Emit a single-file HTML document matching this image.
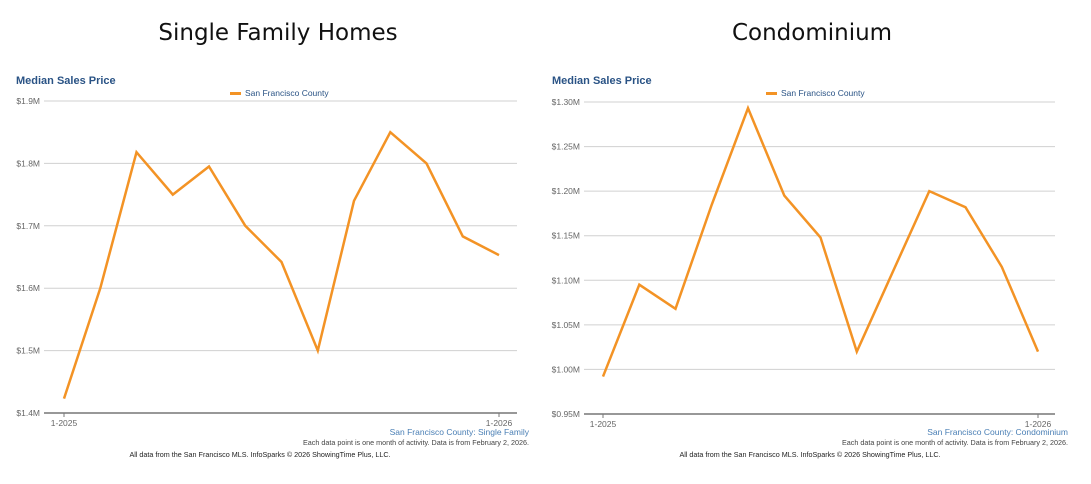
<!DOCTYPE html>
<html><head><meta charset="utf-8"><style>
html,body{margin:0;padding:0;background:#fff;width:1091px;height:484px;overflow:hidden}
svg text{font-family:"Liberation Sans",Arial,sans-serif}
</style></head><body>
<svg width="1091" height="484" viewBox="0 0 1091 484" xmlns="http://www.w3.org/2000/svg">
<text x="278" y="40" font-size="23" text-anchor="middle" fill="#111" style="font-family:'DejaVu Sans','Liberation Sans',sans-serif">Single Family Homes</text>
<text x="812" y="40" font-size="23" text-anchor="middle" fill="#111" style="font-family:'DejaVu Sans','Liberation Sans',sans-serif">Condominium</text>
<g id="c1"></g>
<g id="c2"></g>
</svg>
<script>
const months = ["1-2025","2-2025","3-2025","4-2025","5-2025","6-2025","7-2025","8-2025","9-2025","10-2025","11-2025","12-2025","1-2026"];
const sfValues = [1.423,1.600,1.818,1.750,1.795,1.700,1.642,1.500,1.740,1.850,1.800,1.683,1.653];
const sfTicks = [1.4,1.5,1.6,1.7,1.8,1.9];
const sfTickLabels = ["$1.4M","$1.5M","$1.6M","$1.7M","$1.8M","$1.9M"];
const condoValues = [0.992,1.095,1.068,1.185,1.293,1.195,1.148,1.020,1.110,1.200,1.182,1.115,1.020];
const condoTicks = [0.95,1.00,1.05,1.10,1.15,1.20,1.25,1.30];
const condoTickLabels = ["$0.95M","$1.00M","$1.05M","$1.10M","$1.15M","$1.20M","$1.25M","$1.30M"];
const NS="http://www.w3.org/2000/svg";
function mk(p,tag,attrs,txt){const e=document.createElementNS(NS,tag);for(const k in attrs)e.setAttribute(k,attrs[k]);if(txt!==undefined)e.textContent=txt;p.appendChild(e);return e;}
function draw(g,o){
  const ox=o.ox;
  const y=v=>o.yTop+(o.max-v)/(o.max-o.min)*(o.yBot-o.yTop);
  const x=i=>o.x0+i*(o.x1-o.x0)/(months.length-1);
  let t=mk(g,'text',{x:ox+16,y:84,'font-size':11,'font-weight':'bold',fill:'#2a5385'},'Median Sales Price');
  
  
  const lg=mk(g,'g',{});
  
  
  mk(lg,'rect',{x:o.legX,y:92,width:11,height:3,fill:'#f39325'});
  mk(lg,'text',{x:o.legX+15,y:96,'font-size':8.5,fill:'#2a5385'},'San Francisco County');
  o.ticks.forEach((v,i)=>{
    const l=mk(g,'line',{x1:o.gx0,x2:o.gx1,y1:y(v),y2:y(v),stroke:i===0?'#777':'#d0d0d0','stroke-width':i===0?1.5:1});
    
    
    const tl=mk(g,'text',{x:o.gx0-4,y:y(v)+3,'font-size':8.5,fill:'#666','text-anchor':'end'},o.labels[i]);
    
    
  });
  [0,months.length-1].forEach(i=>{
    mk(g,'line',{x1:x(i),x2:x(i),y1:y(o.min),y2:y(o.min)+4,stroke:'#777'});
    const xl=mk(g,'text',{x:x(i),y:y(o.min)+13,'font-size':8.5,fill:'#666','text-anchor':'middle'},months[i]);
    
    
  });
  const pts=o.vals.map((v,i)=>x(i).toFixed(1)+','+y(v).toFixed(1)).join(' ');
  const pl=mk(g,'polyline',{points:pts,fill:'none',stroke:'#f39325','stroke-width':2.5,'stroke-linejoin':'miter'});
  
  
  const s=mk(g,'text',{x:o.srcX,y:435,'font-size':8.5,fill:'#4a7fb5','text-anchor':'end'},o.src);
  
  
  mk(g,'text',{x:o.srcX,y:445,'font-size':7.2,fill:'#444','text-anchor':'end'},'Each data point is one month of activity. Data is from February 2, 2026.');
  mk(g,'text',{x:o.footX,y:457,'font-size':7.2,fill:'#222','text-anchor':'middle'},'All data from the San Francisco MLS. InfoSparks \u00a9 2026 ShowingTime Plus, LLC.');
}
draw(document.getElementById('c1'),{ox:0,x0:64,x1:499,gx0:44,gx1:517,yTop:101,yBot:413,min:1.4,max:1.9,ticks:sfTicks,labels:sfTickLabels,vals:sfValues,legX:230,src:'San Francisco County: Single Family',srcX:529,footX:260});
draw(document.getElementById('c2'),{ox:536,x0:603,x1:1038,gx0:584,gx1:1055,yTop:102,yBot:414,min:0.95,max:1.30,ticks:condoTicks,labels:condoTickLabels,vals:condoValues,legX:766,src:'San Francisco County: Condominium',srcX:1068,footX:810});
</script>
</body></html>
